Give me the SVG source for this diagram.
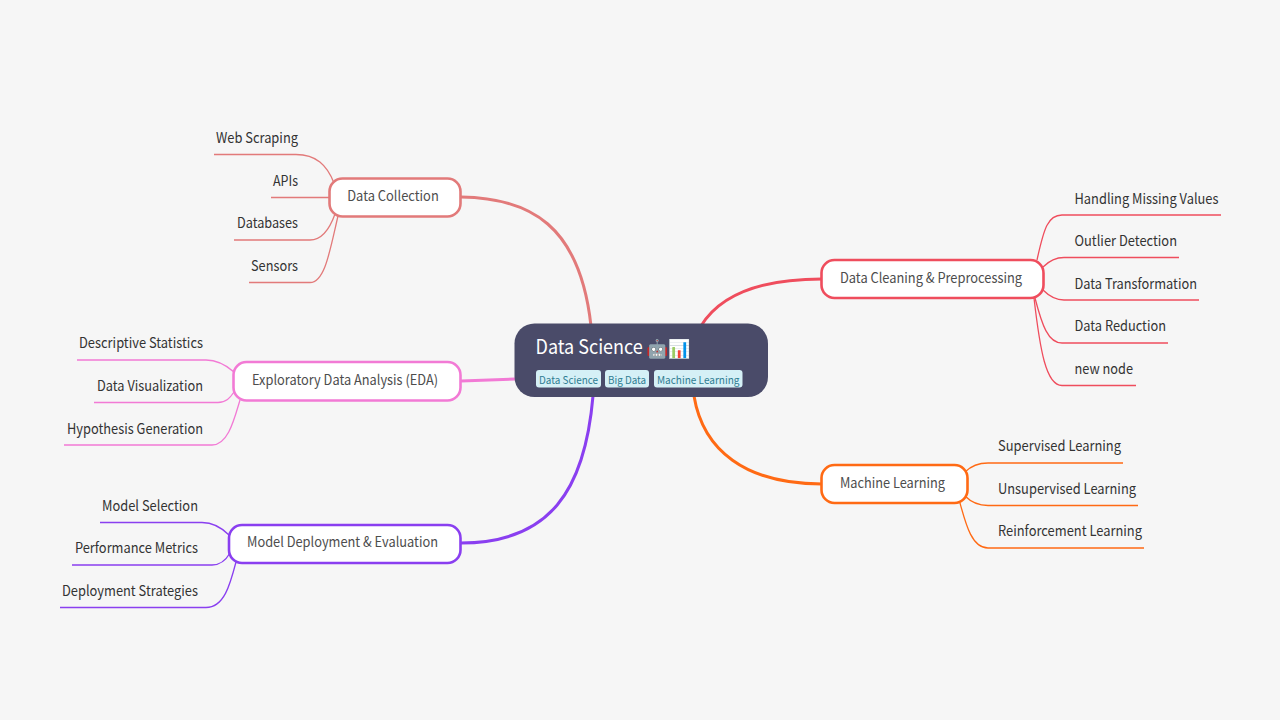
<svg xmlns="http://www.w3.org/2000/svg" width="1280" height="720" viewBox="0 0 1280 720">
<style>
text{font-family:"Noto Sans CJK SC","Noto Sans",sans-serif;font-size:14.5px;fill:#333}
.r{text-anchor:end}
.main{fill:#fff;stroke-width:2.6}
.mt{fill:#4d4d4d;font-size:14px;text-anchor:middle}
.c path{fill:none;stroke-width:1.3}
.c path.t{stroke-width:3}
.tag{fill:#d5f0f6}.tt{font-size:11px;fill:#2f7d92;text-anchor:middle}
</style>
<rect width="1280" height="720" fill="#f6f6f6"/>
<g id="connectors" class="c">
<path class="t" stroke="#e27a7a" d="M461 197C530 198 580 225 591 326"/>
<path stroke="#e27a7a" d="M214 154.500H296C316 154.500 327 165 334 183"/>
<path stroke="#e27a7a" d="M271 197.500H329"/>
<path stroke="#e27a7a" d="M234 240H310C322 240 330 228 335 214"/>
<path stroke="#e27a7a" d="M249 282.500H310C325 282.500 330 250 338 216"/>
<path class="t" stroke="#ef4d5d" d="M701 326C720 295 760 279 822 279"/>
<path stroke="#ef4d5d" d="M1221 215H1062C1048 215 1044 228 1037 260"/>
<path stroke="#ef4d5d" d="M1179 257.500H1064C1055 257.500 1049 261 1043 267"/>
<path stroke="#ef4d5d" d="M1199 300H1064C1055 300 1049 296 1043 290"/>
<path stroke="#ef4d5d" d="M1168 343H1062C1048 343 1042 325 1035 298"/>
<path stroke="#ef4d5d" d="M1136 385.500H1062C1046 385.500 1040 350 1034 298"/>
<path class="t" stroke="#f27ad5" d="M461 381L515 379"/>
<path stroke="#f27ad5" d="M77 360H206C218 360 226 365 234 372"/>
<path stroke="#f27ad5" d="M94 402.500H218C226 402.500 230 398 234 392"/>
<path stroke="#f27ad5" d="M64 445H212C228 445 234 420 240 400"/>
<path class="t" stroke="#8a3ff0" d="M461 543C550 543 585 490 593 396"/>
<path stroke="#8a3ff0" d="M100 522.500H202C214 522.500 222 528 229 535"/>
<path stroke="#8a3ff0" d="M72 565H212C221 565 226 560 230 553"/>
<path stroke="#8a3ff0" d="M60 607.500H206C224 607.500 230 585 236 562"/>
<path class="t" stroke="#ff6a14" d="M694 396C703 450 745 484 822 484"/>
<path stroke="#ff6a14" d="M1123 463H988C978 463 971 466 965 472"/>
<path stroke="#ff6a14" d="M1138 505.500H988C978 505.500 971 502 965 496"/>
<path stroke="#ff6a14" d="M1144 548H988C972 548 966 525 960 503"/>
</g>
<g id="root">
<rect x="514.500" y="323.500" width="253.500" height="73.500" rx="20" fill="#4a4b69"/>
<text transform="translate(535.500 354) scale(.9 1)" style="font-size:20px;fill:#fff">Data Science</text>
<text x="646" y="355" style="font-size:18px;fill:#fff">🤖📊</text>
<rect class="tag" x="536" y="370" width="65" height="17.500" rx="3"/><text class="tt" x="568.500" y="384" textLength="59" lengthAdjust="spacingAndGlyphs">Data Science</text>
<rect class="tag" x="605" y="370" width="44" height="17.500" rx="3"/><text class="tt" x="627" y="384" textLength="38" lengthAdjust="spacingAndGlyphs">Big Data</text>
<rect class="tag" x="654" y="370" width="88.500" height="17.500" rx="3"/><text class="tt" x="698.200" y="384" textLength="82.500" lengthAdjust="spacingAndGlyphs">Machine Learning</text>
</g>
<g id="n-collection"><rect class="main" x="329.500" y="178.500" width="131" height="38" rx="13" stroke="#e27a7a"/><text class="mt" x="393" y="201" textLength="91.500" lengthAdjust="spacingAndGlyphs">Data Collection</text></g>
<g id="n-cleaning"><rect class="main" x="821.500" y="260" width="222" height="38" rx="13" stroke="#ef4d5d"/><text class="mt" x="931" y="283" textLength="182" lengthAdjust="spacingAndGlyphs">Data Cleaning &amp; Preprocessing</text></g>
<g id="n-eda"><rect class="main" x="233.500" y="362" width="227" height="38.500" rx="13" stroke="#f27ad5"/><text class="mt" x="345" y="385" textLength="186" lengthAdjust="spacingAndGlyphs">Exploratory Data Analysis (EDA)</text></g>
<g id="n-deploy"><rect class="main" x="229" y="525" width="231.500" height="38" rx="13" stroke="#8a3ff0"/><text class="mt" x="342.500" y="547" textLength="191" lengthAdjust="spacingAndGlyphs">Model Deployment &amp; Evaluation</text></g>
<g id="n-ml"><rect class="main" x="821.500" y="465" width="146" height="38" rx="13" stroke="#ff6a14"/><text class="mt" x="892.500" y="488" textLength="105" lengthAdjust="spacingAndGlyphs">Machine Learning</text></g>
<g id="l-web"><text class="r" x="298" y="143" textLength="82" lengthAdjust="spacingAndGlyphs">Web Scraping</text></g>
<g id="l-apis"><text class="r" x="298" y="186" textLength="25" lengthAdjust="spacingAndGlyphs">APIs</text></g>
<g id="l-db"><text class="r" x="298" y="228" textLength="61" lengthAdjust="spacingAndGlyphs">Databases</text></g>
<g id="l-sensors"><text class="r" x="298" y="271" textLength="47" lengthAdjust="spacingAndGlyphs">Sensors</text></g>
<g id="l-missing"><text x="1074.500" y="204" textLength="144" lengthAdjust="spacingAndGlyphs">Handling Missing Values</text></g>
<g id="l-outlier"><text x="1074.500" y="246" textLength="102.500" lengthAdjust="spacingAndGlyphs">Outlier Detection</text></g>
<g id="l-transform"><text x="1074.500" y="289" textLength="122.500" lengthAdjust="spacingAndGlyphs">Data Transformation</text></g>
<g id="l-reduction"><text x="1074.500" y="331" textLength="91.500" lengthAdjust="spacingAndGlyphs">Data Reduction</text></g>
<g id="l-new"><text x="1074.500" y="374" textLength="58.500" lengthAdjust="spacingAndGlyphs">new node</text></g>
<g id="l-desc"><text class="r" x="203" y="348" textLength="124" lengthAdjust="spacingAndGlyphs">Descriptive Statistics</text></g>
<g id="l-vis"><text class="r" x="203" y="391" textLength="106" lengthAdjust="spacingAndGlyphs">Data Visualization</text></g>
<g id="l-hyp"><text class="r" x="203" y="434" textLength="136" lengthAdjust="spacingAndGlyphs">Hypothesis Generation</text></g>
<g id="l-sel"><text class="r" x="198" y="511" textLength="96" lengthAdjust="spacingAndGlyphs">Model Selection</text></g>
<g id="l-perf"><text class="r" x="198" y="553" textLength="123" lengthAdjust="spacingAndGlyphs">Performance Metrics</text></g>
<g id="l-strat"><text class="r" x="198" y="596" textLength="136" lengthAdjust="spacingAndGlyphs">Deployment Strategies</text></g>
<g id="l-sup"><text x="998" y="451" textLength="123" lengthAdjust="spacingAndGlyphs">Supervised Learning</text></g>
<g id="l-unsup"><text x="998" y="494" textLength="138" lengthAdjust="spacingAndGlyphs">Unsupervised Learning</text></g>
<g id="l-reinf"><text x="998" y="536" textLength="144" lengthAdjust="spacingAndGlyphs">Reinforcement Learning</text></g>
</svg>
